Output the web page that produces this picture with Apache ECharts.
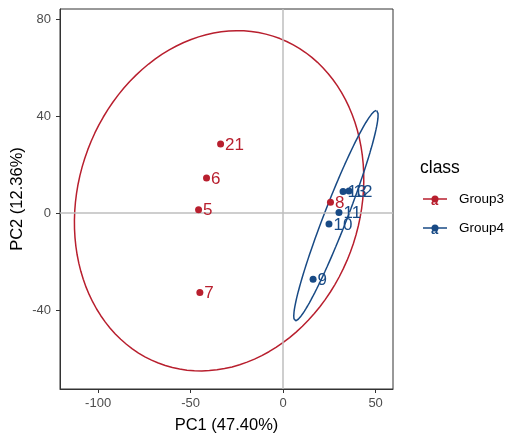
<!DOCTYPE html>
<html>
<head>
<meta charset="utf-8">
<script src="https://cdn.jsdelivr.net/npm/echarts@6/dist/echarts.min.js"></script>
<style>
  html, body { margin: 0; padding: 0; background: #fff; }
  #chart { width: 525px; height: 444px; }
</style>
</head>
<body>
<div id="chart"></div>
<script>
// sample scores on the first two components
const group3Names = ['21', '6', '5', '7', '8']
const group3PC1 = [-33.8, -41.4, -45.7, -45.0, 25.6]
const group3PC2 = [28.6, 14.5, 1.4, -32.8, 4.5]

const group4Names = ['13', '12', '11', '10', '9']
const group4PC1 = [32.4, 35.6, 30.2, 24.8, 16.2]
const group4PC2 = [8.9, 9.2, 0.25, -4.5, -27.3]

// ellipse: centre, first half-axis, second half-axis (data units)
const group3Ellipse = [[-34.6, 5.1], [29.1, 68.0], [72.6, -17.6]]
const group4Ellipse = [[28.55, -1.0], [22.05, 43.4], [5.8, -1.71]]

const xTicks = [-100, -50, 0, 50]
const yTicks = [-40, 0, 40, 80]

const RED = '#B81F2E'
const BLUE = '#184A85'

function pointsOf(names, xs, ys) {
  return names.map((n, i) => ({ name: n, value: [xs[i], ys[i]] }))
}

function ellipsePath(e) {
  const [c, u, v] = e
  const out = []
  for (let i = 0; i <= 120; i++) {
    const t = (i / 120) * Math.PI * 2
    out.push([c[0] + u[0] * Math.cos(t) + v[0] * Math.sin(t),
              c[1] + u[1] * Math.cos(t) + v[1] * Math.sin(t)])
  }
  return out
}

function scatterSeries(name, data, color) {
  return {
    name,
    type: 'scatter',
    data,
    symbolSize: 7,
    itemStyle: { color, opacity: 1 },
    z: 5,
    label: {
      show: true,
      position: 'right',
      distance: 1,
      offset: [0, 1],
      formatter: p => p.name,
      color,
      opacity: 1,
      fontSize: 17,
      fontFamily: 'Liberation Sans'
    }
  }
}

function ellipseSeries(e, color) {
  return {
    type: 'line',
    data: ellipsePath(e),
    showSymbol: false,
    smooth: false,
    silent: true,
    lineStyle: { color, width: 1.5 },
    z: 4
  }
}

const chart = echarts.init(document.getElementById('chart'))

const option = {
  animation: false,
  grid: {
    left: 60, right: 132, top: 9, bottom: 55,
    outerBoundsMode: 'none',
    containLabel: false,
    show: true, borderColor: '#333', borderWidth: 1
  },
  xAxis: {
    type: 'value',
    min: -120.6,
    max: 59.4,
    name: 'PC1 (47.40%)',
    nameLocation: 'middle',
    nameGap: 28,
    nameMoveOverlap: false,
    nameTextStyle: { color: '#000', fontSize: 16.5, fontFamily: 'Liberation Sans' },
    axisLine: { show: true, onZero: false, lineStyle: { color: '#333', width: 1 } },
    axisTick: { show: true, length: 4, customValues: xTicks, lineStyle: { color: '#333' } },
    axisLabel: { customValues: xTicks, margin: 8, color: '#4D4D4D', fontSize: 13, fontFamily: 'Liberation Sans' },
    splitLine: { show: false }
  },
  yAxis: {
    type: 'value',
    min: -72.6,
    max: 84.3,
    name: 'PC2 (12.36%)',
    nameLocation: 'middle',
    nameGap: 34,
    nameMoveOverlap: false,
    nameTextStyle: { color: '#000', fontSize: 16.5, fontFamily: 'Liberation Sans' },
    axisLine: { show: true, onZero: false, lineStyle: { color: '#333', width: 1 } },
    axisTick: { show: true, length: 4, customValues: yTicks, lineStyle: { color: '#333' } },
    axisLabel: { customValues: yTicks, margin: 9, color: '#4D4D4D', fontSize: 13, fontFamily: 'Liberation Sans' },
    splitLine: { show: false }
  },
  series: [
    {
      type: 'line',
      data: [],
      silent: true,
      markLine: {
        silent: true,
        symbol: 'none',
        label: { show: false },
        lineStyle: { color: '#BEBEBE', width: 1.5, type: 'solid' },
        data: [{ xAxis: 0 }, { yAxis: 0 }]
      },
      z: 1
    },
    ellipseSeries(group3Ellipse, RED),
    ellipseSeries(group4Ellipse, BLUE),
    scatterSeries('Group3', pointsOf(group3Names, group3PC1, group3PC2), RED),
    scatterSeries('Group4', pointsOf(group4Names, group4PC1, group4PC2), BLUE)
  ],
  graphic: [
    { type: 'text', left: 420, top: 159, style: { text: 'class', fontSize: 17.5, fill: '#000', fontFamily: 'Liberation Sans' } },
    { type: 'line', shape: { x1: 423, y1: 199, x2: 447, y2: 199 }, style: { stroke: RED, lineWidth: 1.5 } },
    { type: 'circle', shape: { cx: 435, cy: 199, r: 3.5 }, style: { fill: RED } },
    { type: 'text', x: 431, y: 195, style: { text: 'a', fontSize: 13, fontWeight: 'bold', fill: RED, fontFamily: 'Liberation Sans' } },
    { type: 'text', left: 459, top: 192, style: { text: 'Group3', fontSize: 13.5, fill: '#000', fontFamily: 'Liberation Sans' } },
    { type: 'line', shape: { x1: 423, y1: 228, x2: 447, y2: 228 }, style: { stroke: BLUE, lineWidth: 1.5 } },
    { type: 'circle', shape: { cx: 435, cy: 228, r: 3.5 }, style: { fill: BLUE } },
    { type: 'text', x: 431, y: 224, style: { text: 'a', fontSize: 13, fontWeight: 'bold', fill: BLUE, fontFamily: 'Liberation Sans' } },
    { type: 'text', left: 459, top: 221, style: { text: 'Group4', fontSize: 13.5, fill: '#000', fontFamily: 'Liberation Sans' } }
  ]
}

chart.setOption(option)
</script>
</body>
</html>
